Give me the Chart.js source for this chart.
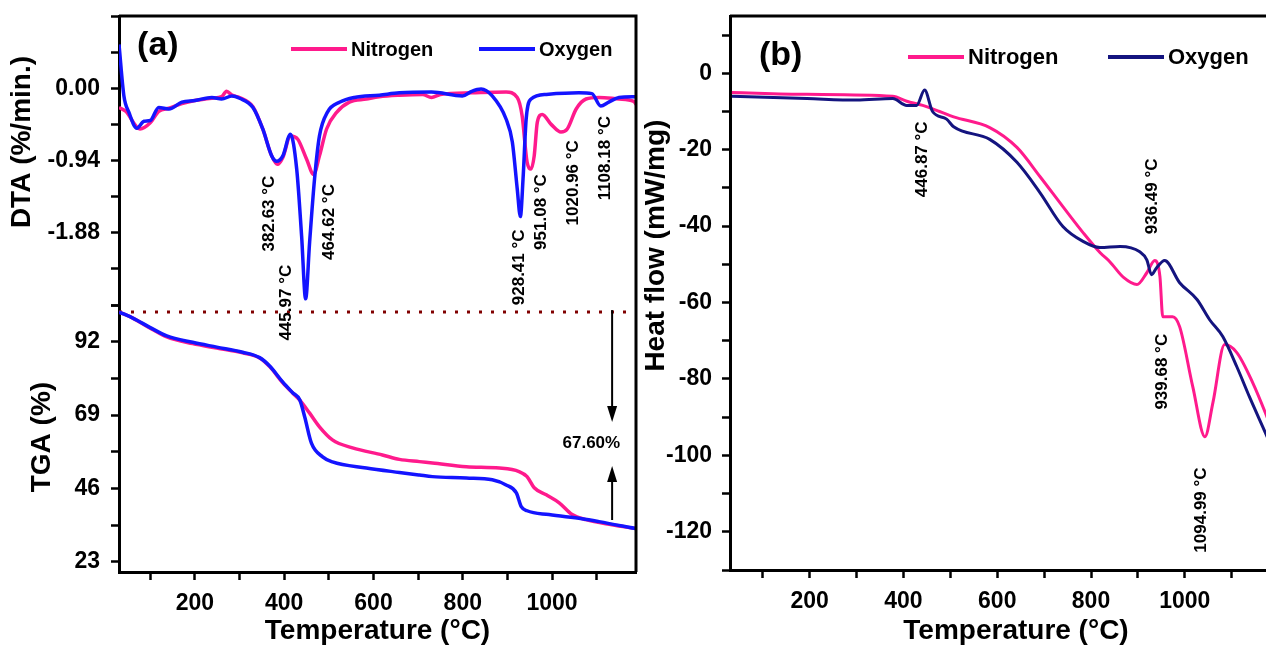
<!DOCTYPE html>
<html>
<head>
<meta charset="utf-8">
<script src="https://cdn.jsdelivr.net/npm/chart.js@4.4.1/dist/chart.umd.min.js"></script>
<style>
  html, body { margin: 0; padding: 0; background: #fff; }
  #wrap { position: relative; width: 1266px; height: 648px; overflow: hidden; background: #fff; }
  #chartA { position: absolute; left: 0; top: 0; }
  #chartB { position: absolute; left: 640px; top: 0; }
</style>
</head>
<body>
<div id="wrap">
  <canvas id="chartA" width="640" height="648"></canvas>
  <canvas id="chartB" width="680" height="648"></canvas>
</div>
<script>
// [temperature °C, value] pairs
const dtaNitrogen = [[30,-0.25],[45,-0.30],[77,-0.53],[100,-0.45],[119,-0.30],[142,-0.26],[171,-0.20],[200,-0.16],[238,-0.13],[260,-0.11],[271,-0.04],[283,-0.09],[300,-0.12],[330,-0.24],[352,-0.53],[372,-0.88],[385,-0.99],[397,-0.90],[414,-0.62],[430,-0.66],[450,-0.92],[466,-1.12],[479,-0.88],[495,-0.53],[518,-0.31],[546,-0.18],[584,-0.14],[613,-0.11],[658,-0.09],[710,-0.08],[730,-0.12],[750,-0.08],[820,-0.06],[897,-0.05],[922,-0.12],[933,-0.36],[944,-0.96],[953,-1.05],[960,-0.88],[967,-0.44],[978,-0.34],[998,-0.47],[1020,-0.57],[1034,-0.53],[1054,-0.27],[1076,-0.14],[1105,-0.12],[1150,-0.14],[1183,-0.17],[1188,-0.21]];
const dtaOxygen = [[30,0.57],[41,-0.10],[52,-0.31],[70,-0.52],[86,-0.43],[100,-0.42],[119,-0.25],[142,-0.27],[171,-0.18],[200,-0.16],[238,-0.12],[260,-0.14],[283,-0.10],[300,-0.13],[330,-0.25],[352,-0.53],[372,-0.88],[383,-0.95],[397,-0.88],[414,-0.60],[428,-1.05],[439,-1.92],[448,-2.74],[457,-2.00],[468,-1.18],[479,-0.62],[497,-0.31],[525,-0.18],[557,-0.12],[613,-0.09],[658,-0.06],[730,-0.05],[799,-0.10],[820,-0.04],[841,-0.01],[866,-0.10],[897,-0.40],[911,-0.70],[922,-1.31],[929,-1.67],[935,-1.18],[942,-0.40],[953,-0.14],[987,-0.08],[1060,-0.06],[1089,-0.07],[1109,-0.23],[1127,-0.18],[1150,-0.12],[1188,-0.11]];
const tgaNitrogen = [[30,101.3],[61,99.4],[99,96.3],[137,93.5],[195,91.4],[249,90.0],[307,88.5],[345,86.9],[368,84.1],[397,79.1],[419,75.9],[435,73.7],[457,69.6],[479,65.3],[508,61.2],[553,58.7],[620,56.5],[658,55.1],[703,54.4],[732,54.0],[808,52.8],[882,52.4],[926,51.3],[944,49.7],[960,46.2],[987,44.0],[1016,41.5],[1045,37.8],[1076,36.2],[1134,34.6],[1188,33.4]];
const tgaOxygen = [[30,101.3],[61,99.4],[99,96.5],[137,93.8],[195,91.8],[249,90.3],[307,88.7],[345,87.0],[368,84.3],[397,79.3],[419,76.0],[435,73.7],[446,68.4],[461,60.2],[486,55.9],[508,54.3],[584,52.4],[658,51.0],[703,50.2],[732,49.7],[808,49.3],[866,48.7],[897,47.1],[920,44.6],[931,40.3],[944,39.0],[993,37.8],[1067,36.5],[1105,35.6],[1188,33.4]];
const tgaStart = [[30,101.3],[1188,101.3]];
const hfNitrogen = [[34,-5.0],[194,-5.5],[377,-6.0],[407,-7.3],[441,-8.4],[477,-10.0],[507,-11.4],[584,-14.2],[642,-19.4],[691,-27.0],[740,-34.9],[783,-41.7],[819,-46.9],[840,-49.3],[870,-53.5],[898,-55.3],[919,-52.2],[936,-49.0],[947,-53.2],[953,-63.7],[974,-63.7],[989,-66.3],[1017,-82.0],[1043,-95.1],[1060,-86.2],[1085,-71.0],[1111,-73.1],[1145,-81.0],[1172,-88.9],[1200,-98.0]];
const hfOxygen = [[34,-6.0],[194,-6.6],[300,-7.0],[377,-6.6],[407,-8.4],[428,-8.4],[445,-4.4],[462,-10.0],[492,-12.0],[507,-14.0],[584,-17.3],[642,-23.3],[691,-31.2],[740,-40.1],[783,-44.0],[819,-45.6],[862,-45.3],[904,-46.7],[919,-48.8],[929,-52.7],[940,-50.9],[957,-49.0],[989,-54.8],[1026,-59.2],[1053,-64.5],[1081,-68.9],[1111,-76.8],[1138,-84.7],[1172,-94.1],[1200,-102.0]];

// ticks
const tempTicksA = [100,200,300,400,500,600,700,800,900,1000,1100];
const tempTicksB = [100,200,300,400,500,600,700,800,900,1000,1100,1200];
const tempLabels = [200,400,600,800,1000];
const dtaTicks = [0.94,0.47,0,-0.47,-0.94,-1.41,-1.88,-2.35,-2.82];
const dtaLabels = [0,-0.94,-1.88];
const tgaTicks = [23,34.5,46,57.5,69,80.5,92,103.5];
const tgaLabels = [23,46,69,92];
const hfTicks = [10,0,-10,-20,-30,-40,-50,-60,-70,-80,-90,-100,-110,-120,-130];
const hfLabels = [0,-20,-40,-60,-80,-100,-120];

const seriesNames = ['Nitrogen', 'Oxygen'];

const PINK = '#ff1a8c', BLUE = '#1414ff', NAVY = '#14147f';
const FONT = 'Arial, "Liberation Sans", sans-serif';

const pts = arr => arr.map(([x, y]) => ({x, y}));
const has = (list, v) => list.some(l => Math.abs(l - v) < 1e-6);

// fixed axis box so the plot area lands where the figure has it
function fixBox(size, vertical) {
    return s => {
        if (vertical) s.width = size; else s.height = size;
        s.paddingTop = s.paddingBottom = s.paddingLeft = s.paddingRight = 0;
    };
}

function tickScale(ticks, labels, fmt) {
    return {
        afterBuildTicks: s => { s.ticks = ticks.map(v => ({value: v})); },
        ticks: {
            autoSkip: false, maxRotation: 0, color: '#000', padding: 10,
            font: {family: FONT, size: 23, weight: 'bold'},
            callback: v => has(labels, v) ? fmt(v) : ''
        },
        grid: {drawOnChartArea: false, tickLength: 8, tickWidth: 2.5, tickColor: '#000'},
        border: {color: '#000', width: 3}
    };
}

// annotations, legend, frame and y titles drawn through the scales
function makeNotes(cfg) {
    return {
        id: 'notes',
        afterDatasetsDraw(chart) {
            const ctx = chart.ctx, a = chart.chartArea, xs = chart.scales.x;
            const px = t => xs.getPixelForValue(t);
            const py = (axis, v) => chart.scales[axis].getPixelForValue(v);
            ctx.save();
            ctx.strokeStyle = '#000';
            ctx.lineWidth = 3;
            ctx.beginPath();
            ctx.moveTo(a.left, a.top);
            ctx.lineTo(a.right, a.top);
            ctx.lineTo(a.right, a.bottom);
            ctx.stroke();

            ctx.fillStyle = '#000';
            // panel tag
            ctx.font = 'bold 34px ' + FONT;
            ctx.textAlign = 'center';
            ctx.textBaseline = 'middle';
            ctx.fillText(cfg.tag.text, px(cfg.tag.t), py(cfg.tag.axis, cfg.tag.v));

            // legend
            ctx.font = 'bold ' + cfg.legend.size + 'px ' + FONT;
            ctx.textAlign = 'left';
            cfg.legend.items.forEach((it, i) => {
                const x0 = a.left + it.dx, y0 = a.top + cfg.legend.dy;
                ctx.strokeStyle = it.color;
                ctx.lineWidth = 4;
                ctx.beginPath();
                ctx.moveTo(x0, y0);
                ctx.lineTo(x0 + 56, y0);
                ctx.stroke();
                ctx.fillText(seriesNames[i], x0 + 60, y0 + 1);
            });

            // rotated peak labels
            ctx.font = 'bold 17px ' + FONT;
            ctx.textAlign = 'center';
            cfg.peaks.forEach(p => {
                ctx.save();
                ctx.translate(px(p.t), py(p.axis, p.v));
                ctx.rotate(-Math.PI / 2);
                ctx.fillText(p.text, 0, 0);
                ctx.restore();
            });

            // plain texts
            (cfg.texts || []).forEach(p => {
                ctx.fillText(p.text, px(p.t), py(p.axis, p.v));
            });

            // arrows
            (cfg.arrows || []).forEach(ar => {
                const x = px(ar.t), y1 = py(ar.axis, ar.from), y2 = py(ar.axis, ar.to);
                const dir = y2 > y1 ? 1 : -1;
                ctx.strokeStyle = '#000';
                ctx.lineWidth = 2;
                ctx.beginPath();
                ctx.moveTo(x, y1);
                ctx.lineTo(x, y2 - dir * 12);
                ctx.stroke();
                ctx.beginPath();
                ctx.moveTo(x, y2);
                ctx.lineTo(x - 5, y2 - dir * 16);
                ctx.lineTo(x + 5, y2 - dir * 16);
                ctx.closePath();
                ctx.fill();
            });

            // y axis titles
            ctx.font = 'bold 28px ' + FONT;
            cfg.yTitles.forEach(ti => {
                ctx.save();
                ctx.translate(a.left - ti.dx, py(ti.axis, ti.v));
                ctx.rotate(-Math.PI / 2);
                ctx.fillText(ti.text, 0, 0);
                ctx.restore();
            });
            ctx.restore();
        }
    };
}

function xScale(min, max, ticks, height) {
    return Object.assign(tickScale(ticks, tempLabels, v => String(v)), {
        type: 'linear', position: 'bottom', min, max,
        afterFit: fixBox(height, false),
        title: {display: true, text: 'Temperature (°C)', color: '#000',
            font: {family: FONT, size: 28, weight: 'bold'}, padding: {top: 0, bottom: 0}}
    });
}

function line(label, data, axis, color, width, order) {
    return {label, data: pts(data), yAxisID: axis, borderColor: color, backgroundColor: color,
        borderWidth: width, pointRadius: 0, cubicInterpolationMode: 'monotone', order};
}

const dtaAxis = Object.assign(tickScale(dtaTicks, dtaLabels, v => v.toFixed(2)), {
    type: 'linear', position: 'left', min: -2.82, max: 0.94,
    stack: 'a', stackWeight: 289, weight: 1,
    afterFit: fixBox(119, true)
});
dtaAxis.ticks.padding = 11;
const tgaAxis = Object.assign(tickScale(tgaTicks, tgaLabels, v => String(v)), {
    type: 'linear', position: 'left', min: 19.8, max: 103.5,
    stack: 'a', stackWeight: 267, weight: 0,
    afterFit: fixBox(119, true)
});
tgaAxis.ticks.padding = 11;

new Chart(document.getElementById('chartA'), {
    type: 'line',
    data: {
        datasets: [
            line('Oxygen DTA', dtaOxygen, 'yd', BLUE, 3.5, 0),
            line('Nitrogen DTA', dtaNitrogen, 'yd', PINK, 3.5, 1),
            line('Oxygen TGA', tgaOxygen, 'yt', BLUE, 3.5, 0),
            line('Nitrogen TGA', tgaNitrogen, 'yt', PINK, 3.5, 1),
            Object.assign(line('start', tgaStart, 'yt', '#800000', 3, 2), {borderDash: [3, 9], cubicInterpolationMode: 'default'})
        ]
    },
    options: {
        responsive: false, animation: false,
        layout: {padding: {top: 16, right: 4, left: 0, bottom: 0}},
        plugins: {legend: {display: false}, tooltip: {enabled: false}},
        scales: {
            x: xScale(30, 1188, tempTicksA, 76),
            yd: dtaAxis,
            yt: tgaAxis
        }
    },
    plugins: [makeNotes({
        tag: {text: '(a)', t: 117, axis: 'yd', v: 0.55},
        legend: {size: 20, dy: 33, items: [{dx: 172, color: PINK}, {dx: 360, color: BLUE}]},
        peaks: [
            {text: '382.63 °C', t: 367.5, axis: 'yd', v: -1.63},
            {text: '445.97 °C', t: 405.5, axis: 'yd', v: -2.79},
            {text: '464.62 °C', t: 501.6, axis: 'yd', v: -1.74},
            {text: '928.41 °C', t: 926.3, axis: 'yd', v: -2.33},
            {text: '951.08 °C', t: 975.5, axis: 'yd', v: -1.61},
            {text: '1020.96 °C', t: 1047, axis: 'yd', v: -1.23},
            {text: '1108.18 °C', t: 1118.5, axis: 'yd', v: -0.91}
        ],
        texts: [{text: '67.60%', t: 1088, axis: 'yt', v: 60.2}],
        arrows: [
            {t: 1134.5, axis: 'yt', from: 101.9, to: 66.8},
            {t: 1134.5, axis: 'yt', from: 36.1, to: 53.0}
        ],
        yTitles: [
            {text: 'DTA (%/min.)', axis: 'yd', v: -0.70, dx: 97},
            {text: 'TGA (%)', axis: 'yt', v: 62.1, dx: 77}
        ]
    })]
});

const hfAxis = Object.assign(tickScale(hfTicks, hfLabels, v => String(v)), {
    type: 'linear', position: 'left', min: -130, max: 15,
    afterFit: fixBox(90, true)
});

new Chart(document.getElementById('chartB'), {
    type: 'line',
    data: {
        datasets: [
            line('Oxygen', hfOxygen, 'y', NAVY, 3, 0),
            line('Nitrogen', hfNitrogen, 'y', PINK, 3, 1)
        ]
    },
    options: {
        responsive: false, animation: false,
        layout: {padding: {top: 16, right: 18, left: 0, bottom: 0}},
        plugins: {legend: {display: false}, tooltip: {enabled: false}},
        scales: {
            x: xScale(30, 1250, tempTicksB, 78),
            y: hfAxis
        }
    },
    plugins: [makeNotes({
        tag: {text: '(b)', t: 138, axis: 'y', v: 4.5},
        legend: {size: 22, dy: 41, items: [{dx: 178, color: PINK}, {dx: 378, color: NAVY}]},
        peaks: [
            {text: '446.87 °C', t: 441, axis: 'y', v: -22.5},
            {text: '936.49 °C', t: 931.8, axis: 'y', v: -32.2},
            {text: '939.68 °C', t: 951, axis: 'y', v: -78.1},
            {text: '1094.99 °C', t: 1036, axis: 'y', v: -114.3}
        ],
        yTitles: [
            {text: 'Heat flow (mW/mg)', axis: 'y', v: -45.1, dx: 74}
        ]
    })]
});
</script>
</body>
</html>
